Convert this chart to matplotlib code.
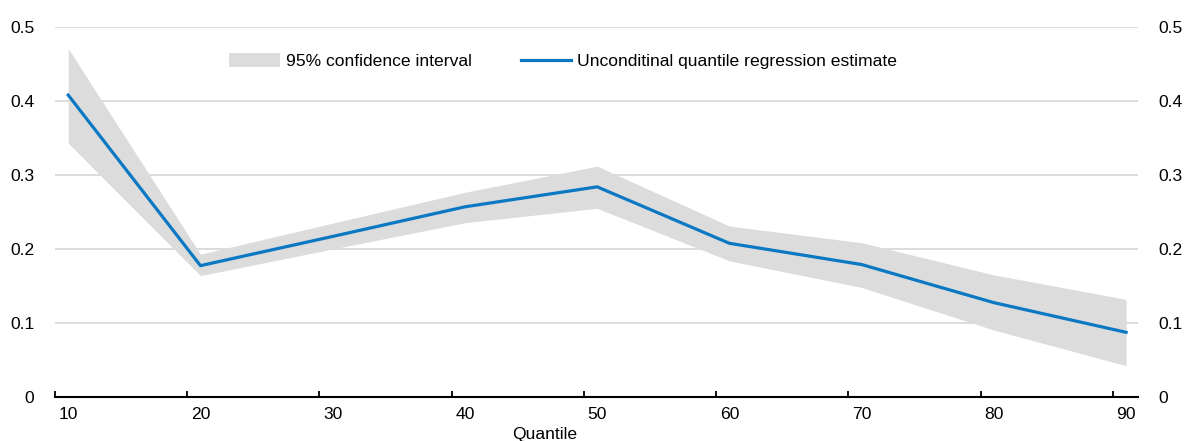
import matplotlib
matplotlib.use("Agg")
import matplotlib.pyplot as plt
from matplotlib.patches import Patch
from matplotlib.lines import Line2D

plt.rcParams['font.family'] = ['Liberation Sans', 'DejaVu Sans']

quantiles = [10, 20, 30, 40, 50, 60, 70, 80, 90]
estimate = [0.408, 0.1775, 0.217, 0.257, 0.284, 0.2077, 0.179, 0.1275, 0.0874]
ci_upper = [0.471, 0.193, 0.235, 0.2766, 0.312, 0.231, 0.2085, 0.165, 0.132]
ci_lower = [0.343, 0.164, 0.200, 0.2355, 0.255, 0.184, 0.148, 0.0905, 0.0423]
y_ticks = [0, 0.1, 0.2, 0.3, 0.4, 0.5]
y_labels = ['0', '0.1', '0.2', '0.3', '0.4', '0.5']

BLUE = '#0B78C4'
BAND = '#DCDCDC'
GRID = '#D2D2D2'
FS = 12.6

fig = plt.figure(figsize=(11.85, 4.41), dpi=100)
ax = fig.add_axes([55 / 1185, 1 - 397 / 441, (1138 - 55) / 1185, 370 / 441])

ax.fill_between(quantiles, ci_lower, ci_upper, color=BAND, linewidth=0, zorder=1)
ax.plot(quantiles, estimate, color=BLUE, linewidth=2.3, zorder=3)

ax.set_xlim(9.0, 90.9)
ax.set_ylim(0, 0.5)

# tick marks sit just left of each category; labels centred on the category
ax.set_xticks([q - 1 for q in quantiles])
ax.set_xticklabels([])
ax.set_xticks(quantiles, minor=True)
ax.set_xticklabels([str(q) for q in quantiles], minor=True, fontsize=FS)
ax.tick_params(axis='x', which='major', direction='in', length=4.5, width=1.3, color='black')
ax.tick_params(axis='x', which='minor', length=0, pad=7)

ax.set_yticks(y_ticks)
ax.set_yticklabels(y_labels, fontsize=FS)
ax.tick_params(axis='y', length=0, pad=15, labelleft=True, labelright=True)

for v in y_ticks[1:]:
    ax.axhline(v, color=GRID, linewidth=1.1, zorder=0)

for side in ['top', 'left', 'right']:
    ax.spines[side].set_visible(False)
ax.spines['bottom'].set_linewidth(1.5)
ax.spines['bottom'].set_zorder(4)

fig.text(545 / 1185, 1 - 434 / 441, 'Quantile', ha='center', va='center', fontsize=FS)

handles = [Patch(facecolor=BAND, edgecolor='none'),
           Line2D([0], [0], color=BLUE, linewidth=2.3)]
labels = ['95% confidence interval', 'Unconditinal quantile regression estimate']
ax.legend(handles, labels, loc='center left', bbox_to_anchor=(174 / 1083, (397 - 61) / 370),
          ncol=2, frameon=False, fontsize=FS, handlelength=2.9, handleheight=0.8,
          handletextpad=0.34, columnspacing=2.8, borderaxespad=0, borderpad=0)

fig.savefig('out.png', dpi=100)
